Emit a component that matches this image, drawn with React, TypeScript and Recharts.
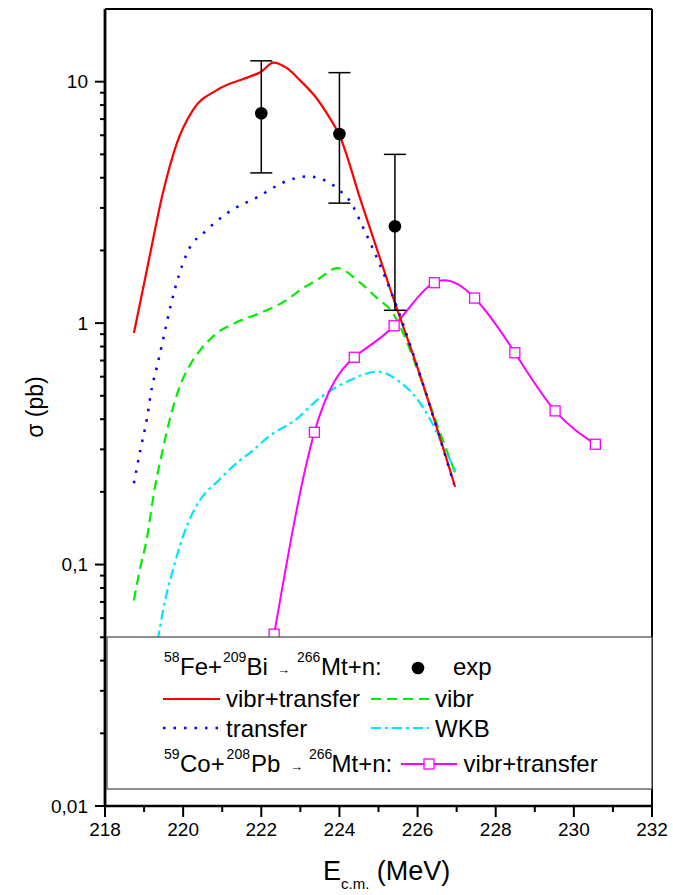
import React from 'react';
import { ComposedChart, Line, Scatter, ErrorBar, XAxis, YAxis, ReferenceLine } from 'recharts';

const FONT = '"Liberation Sans", Arial, Helvetica, sans-serif';

// 58Fe+209Bi -> 266Mt+n, vibr+transfer
const vtE = [218.74, 219.1, 219.48, 219.84, 220.25, 220.87, 221.71, 222.0, 222.31, 222.65, 223.0, 223.4, 223.7, 224.0, 224.55, 225.37, 225.99, 226.96];
const vtS = [0.91, 1.75, 3.45, 5.57, 7.63, 9.25, 10.5, 11.0, 12.0, 11.4, 10.1, 8.6, 7.3, 6.0, 3.2, 1.28, 0.66, 0.21];

// transfer
const trE = [218.74, 218.9, 219.07, 219.2, 219.33, 219.51, 219.69, 220.1, 220.61, 221.12, 221.89, 222.73, 223.2, 223.7, 224.0, 224.27, 224.6, 225.0, 225.4, 226.2, 226.93];
const trS = [0.217, 0.295, 0.4, 0.54, 0.66, 0.89, 1.2, 1.95, 2.43, 2.85, 3.32, 3.92, 4.05, 3.85, 3.55, 3.2, 2.5, 1.8, 1.25, 0.52, 0.215];

// vibr
const viE = [218.74, 218.92, 219.05, 219.28, 219.46, 219.66, 219.92, 220.15, 220.43, 220.87, 221.38, 221.97, 222.66, 222.99, 223.43, 223.94, 224.53, 224.96, 225.37, 225.63, 226.0, 226.5, 226.96];
const viS = [0.071, 0.1, 0.123, 0.21, 0.29, 0.4, 0.55, 0.66, 0.77, 0.91, 1.01, 1.1, 1.25, 1.37, 1.51, 1.69, 1.47, 1.27, 1.1, 0.91, 0.64, 0.38, 0.24];

// WKB
const wkbE = [219.2, 219.36, 219.49, 219.58, 219.74, 219.92, 220.1, 220.43, 220.87, 221.45, 221.71, 222.2, 222.9, 223.43, 224.27, 224.99, 225.55, 225.88, 226.32, 226.65, 227.0];
const wkbS = [0.04, 0.05, 0.065, 0.076, 0.095, 0.12, 0.145, 0.185, 0.22, 0.27, 0.29, 0.34, 0.4, 0.48, 0.58, 0.63, 0.57, 0.51, 0.4, 0.31, 0.24];

// 59Co+208Pb -> 266Mt+n, vibr+transfer
const coE = [222.33, 223.36, 224.38, 225.4, 226.43, 227.46, 228.49, 229.52, 230.55];
const coS = [0.0515, 0.353, 0.722, 0.975, 1.47, 1.27, 0.754, 0.433, 0.315];

// experiment
const expE = [222.0, 224.0, 225.42];
const expS = [7.4, 6.07, 2.52];
const expLo = [4.19, 3.14, 1.13];
const expHi = [12.2, 10.9, 5.0];

const xTicks = [218, 219, 220, 221, 222, 223, 224, 225, 226, 227, 228, 229, 230, 231, 232];
const yMajor = [0.01, 0.1, 1, 10];
const yLabels = ['0,01', '0,1', '1', '10'];
const yMinor = [0.02, 0.03, 0.04, 0.05, 0.06, 0.07, 0.08, 0.09, 0.2, 0.3, 0.4, 0.5, 0.6, 0.7, 0.8, 0.9, 2, 3, 4, 5, 6, 7, 8, 9];
const yTicks = [...yMajor, ...yMinor].sort((a, b) => a - b);

const pts = (xs: number[], ys: number[]) => xs.map((x, i) => ({ x, y: ys[i] }));
const vtData = pts(vtE, vtS);
const trData = pts(trE, trS);
const viData = pts(viE, viS);
const wkbData = pts(wkbE, wkbS);
const coData = pts(coE, coS);
const expData = expE.map((x, i) => ({ x, y: expS[i], err: [expS[i] - expLo[i], expHi[i] - expS[i]] }));

const RED = '#ff0000';
const BLUE = '#0000ff';
const GREEN = '#00ee00';
const CYAN = '#00e5ff';
const MAG = '#ff00ff';

const DASH_VI = '10 6';
const DASH_TR = '2.5 8';
const DASH_WKB = '10 4 3 4';

const YTick = (props: any) => {
  const { x, y, payload } = props;
  const i = yMajor.findIndex(v => Math.abs(v - payload.value) < 1e-9);
  const major = i >= 0;
  return (
    <g>
      <line x1={x} x2={x - (major ? 10 : 5)} y1={y} y2={y} stroke="#000" strokeWidth={2} />
      {major && (
        <text x={x - 17} y={y} dy="0.35em" textAnchor="end" fontSize={19} fontFamily={FONT} fill="#000">
          {yLabels[i]}
        </text>
      )}
    </g>
  );
};

const XTick = (props: any) => {
  const { x, y, payload } = props;
  const major = payload.value % 2 === 0;
  return (
    <g>
      <line x1={x} x2={x} y1={y} y2={y + (major ? 11 : 6)} stroke="#000" strokeWidth={2} />
      {major && (
        <text x={x} y={y + 30} textAnchor="middle" fontSize={19} fontFamily={FONT} fill="#000">
          {payload.value}
        </text>
      )}
    </g>
  );
};

const renderXTitle = () => (
  <text x={323} y={880} fontFamily={FONT} fontSize={27} fill="#000">
    E<tspan fontSize={15} dy={9}>c.m.</tspan>
    <tspan dy={-9}> (MeV)</tspan>
  </text>
);

const renderYTitle = () => (
  <text x={35} y={407} transform="rotate(-90 35 407)" textAnchor="middle" dominantBaseline="central" fontFamily={FONT} fontSize={23} fill="#000">
    σ (pb)
  </text>
);

const Square = (props: any) => {
  const { cx, cy, index } = props;
  if (cx == null || cy == null) return null;
  return <rect key={index} x={cx - 5} y={cy - 5} width={10} height={10} fill="#fff" stroke={MAG} strokeWidth={1.3} />;
};

const Dot = (props: any) => <circle cx={props.cx} cy={props.cy} r={6.3} fill="#000" />;

const LegendBox = () => {
  const t = { fontFamily: FONT, fill: '#000' };
  return (
    <svg width={673} height={895} style={{ position: 'absolute', left: 0, top: 0, pointerEvents: 'none' }}>
      <rect x={107} y={637} width={545} height={152} fill="#fff" stroke="#444" strokeWidth={1.2} />
      {/* row 1 */}
      <text {...t} x={164} y={662} fontSize={14}>58</text>
      <text {...t} x={180} y={675} fontSize={24}>Fe+</text>
      <text {...t} x={223} y={662} fontSize={14}>209</text>
      <text {...t} x={246.5} y={675} fontSize={24}>Bi</text>
      <text {...t} x={277} y={674} fontSize={13}>→</text>
      <text {...t} x={297} y={662} fontSize={14}>266</text>
      <text {...t} x={321} y={675} fontSize={24}>Mt+n:</text>
      <circle cx={418} cy={668} r={6.3} fill="#000" />
      <text {...t} x={453} y={675} fontSize={24}>exp</text>
      {/* row 2 */}
      <line x1={163} x2={220} y1={699} y2={699} stroke={RED} strokeWidth={2.2} />
      <text {...t} x={226} y={707} fontSize={24}>vibr+transfer</text>
      <line x1={371} x2={429} y1={699} y2={699} stroke={GREEN} strokeWidth={2.2} strokeDasharray={DASH_VI} />
      <text {...t} x={435} y={707} fontSize={24}>vibr</text>
      {/* row 3 */}
      <line x1={163} x2={220} y1={728} y2={728} stroke={BLUE} strokeWidth={2.5} strokeDasharray={DASH_TR} />
      <text {...t} x={226} y={737} fontSize={24}>transfer</text>
      <line x1={371} x2={429} y1={728} y2={728} stroke={CYAN} strokeWidth={2.2} strokeDasharray={DASH_WKB} />
      <text {...t} x={435} y={737} fontSize={24}>WKB</text>
      {/* row 4 */}
      <text {...t} x={164} y={759} fontSize={14}>59</text>
      <text {...t} x={180} y={772} fontSize={24}>Co+</text>
      <text {...t} x={226.6} y={759} fontSize={14}>208</text>
      <text {...t} x={251} y={772} fontSize={24}>Pb</text>
      <text {...t} x={290} y={771} fontSize={13}>→</text>
      <text {...t} x={309} y={759} fontSize={14}>266</text>
      <text {...t} x={331.5} y={772} fontSize={24}>Mt+n:</text>
      <line x1={401} x2={457} y1={764} y2={764} stroke={MAG} strokeWidth={2} />
      <rect x={424} y={759} width={10} height={10} fill="#fff" stroke={MAG} strokeWidth={1.3} />
      <text {...t} x={463.6} y={772} fontSize={24}>vibr+transfer</text>
    </svg>
  );
};

export default function App() {
  return (
    <div style={{ position: 'absolute', left: 0, top: 0, width: 673, height: 895, background: '#fff' }}>
      <ComposedChart width={673} height={895} margin={{ top: 9, right: 21, bottom: 0, left: 0 }}>
        <XAxis
          dataKey="x"
          type="number"
          domain={[218, 232]}
          allowDataOverflow
          ticks={xTicks}
          interval={0}
          height={89}
          tickSize={0}
          tickMargin={0}
          tickLine={false}
          tick={<XTick />}
          axisLine={{ stroke: '#000', strokeWidth: 2.5 }}
          label={renderXTitle}
        />
        <YAxis
          dataKey="y"
          type="number"
          scale="log"
          domain={[0.01, 20]}
          allowDataOverflow
          ticks={yTicks}
          interval={0}
          width={105}
          tickSize={0}
          tickMargin={0}
          tickLine={false}
          tick={<YTick />}
          axisLine={{ stroke: '#000', strokeWidth: 2.8 }}
          label={renderYTitle}
        />
        <ReferenceLine y={20} stroke="#000" strokeWidth={2} />
        <ReferenceLine x={232} stroke="#000" strokeWidth={2} />
        <Line data={viData} dataKey="y" type="monotone" stroke={GREEN} strokeWidth={2.2} strokeDasharray={DASH_VI} dot={false} isAnimationActive={false} />
        <Line data={wkbData} dataKey="y" type="monotone" stroke={CYAN} strokeWidth={2.2} strokeDasharray={DASH_WKB} dot={false} isAnimationActive={false} />
        <Line data={coData} dataKey="y" type="natural" stroke={MAG} strokeWidth={2} dot={<Square />} isAnimationActive={false} />
        <Line data={vtData} dataKey="y" type="monotone" stroke={RED} strokeWidth={2.2} dot={false} isAnimationActive={false} />
        <Line data={trData} dataKey="y" type="monotone" stroke={BLUE} strokeWidth={2.5} strokeDasharray={DASH_TR} dot={false} isAnimationActive={false} />
        <Scatter data={expData} dataKey="y" shape={<Dot />} isAnimationActive={false}>
          <ErrorBar dataKey="err" direction="y" width={11} stroke="#000" strokeWidth={1.5} isAnimationActive={false} />
        </Scatter>
      </ComposedChart>
      <LegendBox />
    </div>
  );
}
